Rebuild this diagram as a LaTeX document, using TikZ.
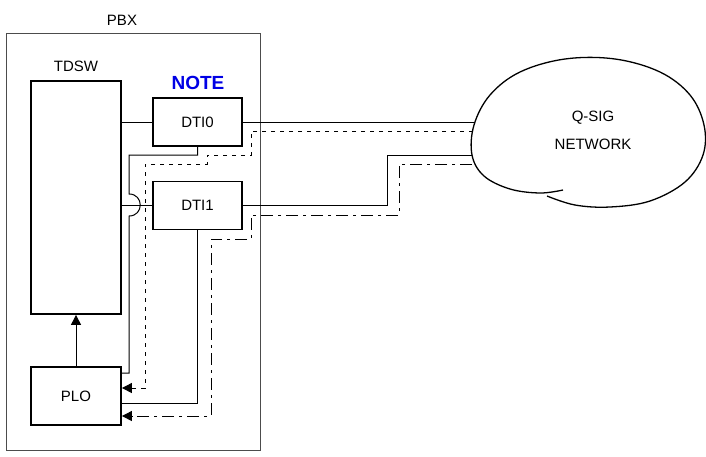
\documentclass[tikz,border=0pt]{standalone}
\usepackage{fontspec}
\setmainfont{Liberation Sans}
\usetikzlibrary{arrows.meta}

\begin{document}
\begin{tikzpicture}[x=1pt, y=-1pt,
    box/.style = {draw, line width=1.8pt, inner sep=0pt, font=\fontsize{15}{18}\selectfont},
    lbl/.style = {font=\fontsize{15}{18}\selectfont},
    wire/.style = {line width=1pt},
    sig/.style = {wire, -{Triangle[length=10pt, width=10pt]}},
    dots/.style = {dash pattern=on 4pt off 5pt},
    dashdot/.style = {dash pattern=on 12pt off 5pt on 3pt off 5pt}]

    \useasboundingbox (0,0) rectangle (706,456);

    % PBX
    \draw [black!70, line width=1pt] (6,33) rectangle (260,450);
    \node [lbl] (pbx) at (122,20) {PBX};

    % Blocks
    \node [box, minimum width=90pt, minimum height=233pt] (tdsw) at (76,197.5) {};
    \node [lbl] (tdswlabel) at (76,66) {TDSW};
    \node [box, minimum width=89pt, minimum height=48pt] (dti0) at (197.5,122) {DTI0};
    \node [box, minimum width=89pt, minimum height=48pt] (dti1) at (197.5,205.5) {DTI1};
    \node [box, minimum width=90pt, minimum height=58pt] (plo) at (76,396) {PLO};
    \node [font=\fontsize{19}{22}\selectfont\bfseries, text=blue!90!black] (note) at (198,83) {NOTE};

    % Q-SIG network (cloud)
    \draw [line width=1.3pt] plot [smooth, tension=0.6] coordinates {
        (547,196) (575,205) (610,207) (650,201) (685,182) (703,155) (704,125)
        (690,95) (660,72) (615,59) (565,59) (520,72) (490,95) (474,125)
        (472,155) (484,176) (510,189) (540,193) (563,190)};
    \node [lbl, align=center, font=\fontsize{15}{28}\selectfont] (net) at (593,130) {Q-SIG\\NETWORK};
    \coordinate (net0) at (474,122);
    \coordinate (net0r) at (473,131);
    \coordinate (net1) at (472,155);
    \coordinate (net1r) at (472,164);

    % TDSW - DTI
    \draw [wire] (tdsw.east |- dti0.west) -- (dti0.west);
    \draw [wire] (tdsw.east |- dti1.west) -- (dti1.west);

    % PLO - TDSW
    \draw [sig] (plo.north) -- (tdsw.south);

    % DTI0
    \draw [wire] (dti0.east) -- (net0);
    \draw [wire] (dti0.south) |- (129,155) -- (129,194)
        .. controls (144,194) and (144,216) .. (129,216)
        -- (129,373) -- (plo.east |- 0,373);
    \draw [sig, dots] (net0r) -- (251,131) -- (251,155) -- (207,155) -- (207,164)
        -- (145,164) -- (145,388) -- (plo.east |- 0,388);

    % DTI1
    \draw [wire] (dti1.east) -- (387,205.5) -- (387,155) -- (net1);
    \draw [wire] (dti1.south) -- (197.5,403) -- (plo.east |- 0,403);
    \draw [sig, dashdot] (net1r) -- (399,164) -- (399,215) -- (251,215) -- (251,239)
        -- (211,239) -- (211,416) -- (plo.east |- 0,416);

\end{tikzpicture}
\end{document}
